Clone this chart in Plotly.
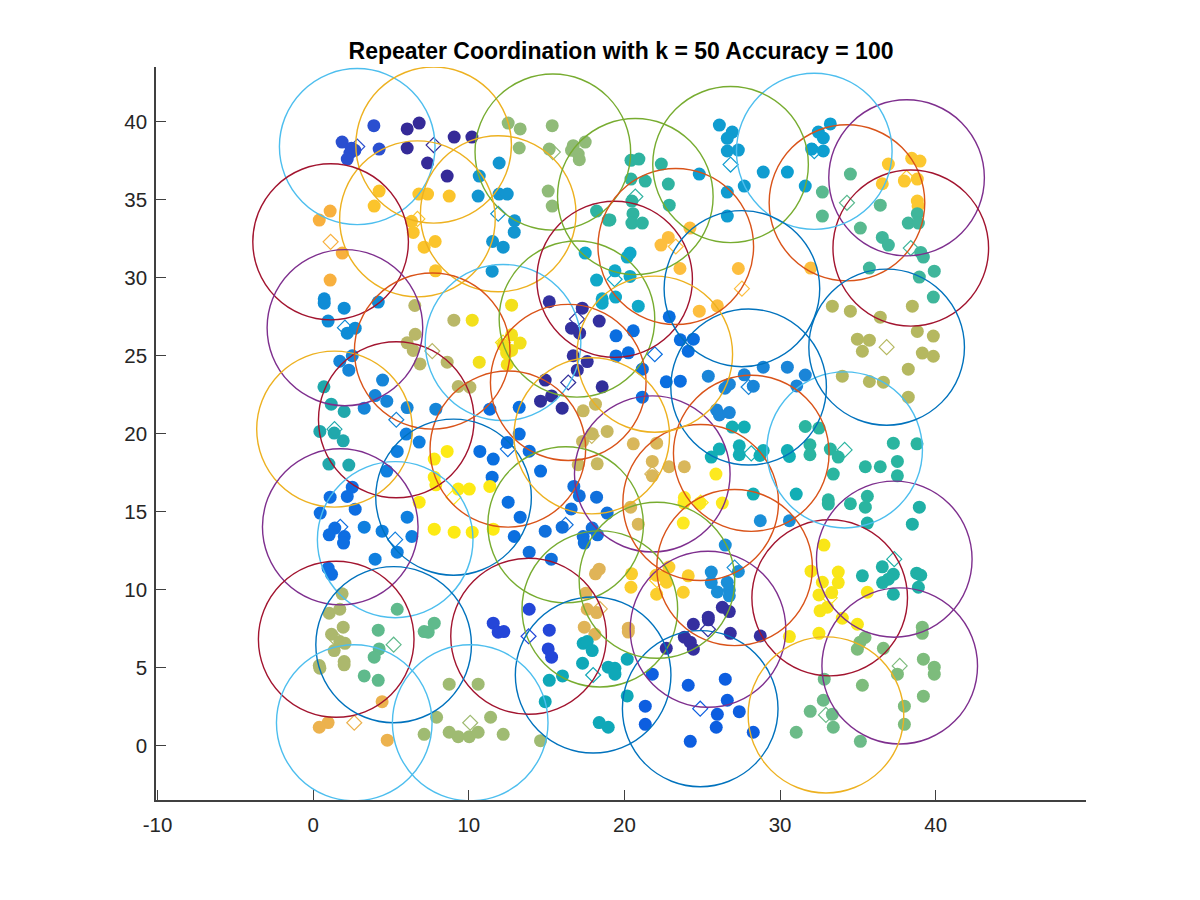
import plotly.graph_objects as go

RADIUS = 5.0
title_text = "Repeater Coordination with k = 50 Accuracy = 100"
x_ticks = [-10, 0, 10, 20, 30, 40]
x_tick_labels = ["-10", "0", "10", "20", "30", "40"]
y_ticks = [0, 5, 10, 15, 20, 25, 30, 35, 40]
y_tick_labels = ["0", "5", "10", "15", "20", "25", "30", "35", "40"]

BLUE, RED, ORANGE, PURPLE, GREEN, SKY, WINE = "#0072BD", "#D95319", "#EDB120", "#7E2F8E", "#77AC30", "#4DBEEE", "#A2142F"

p01 = [(3.90,39.74),(1.86,38.69),(2.46,38.3),(2.68,38.16),(2.36,37.99),(2.19,37.6),(4.24,38.24)]
p02 = [(6.81,39.91),(6.04,39.53),(6.04,38.31),(7.35,37.35),(8.61,36.51),(9.06,39.01),(10.2,39.01)]
p03 = [(12.53,39.91),(13.3,39.53),(15.36,39.74),(13.24,38.31),(15.17,38.24),(17.48,38.69),(16.71,38.46),(16.6,38.16),(17.03,37.92),(17.1,37.56),(15.1,35.55),(15.36,34.59)]
p04 = [(4.24,35.55),(3.92,34.59),(6.79,35.36),(7.35,35.36),(8.74,35.23),(6.32,33.61),(6.43,32.9),(7.13,31.96),(7.84,32.32),(7.86,30.44)]
p05 = [(1.09,34.27),(0.39,33.69),(1.87,31.58),(1.09,29.85)]
p06 = [(11.95,37.35),(10.67,36.51),(10.6,35.23),(11.95,35.36),(12.47,35.36),(12.94,33.65),(12.92,32.92),(11.53,32.32),(12.21,31.96),(11.5,30.42)]
p07 = [(0.71,28.65),(0.71,28.37),(1.99,28.05),(0.96,27.22),(4.18,28.44),(2.7,26.77),(2.19,26.45)]
p08 = [(1.71,24.65),(2.51,25.0),(2.29,24.08),(4.46,23.44),(3.98,22.45),(4.73,22.09),(3.28,21.64),(6.04,21.68),(7.88,21.58)]
p09 = [(0.69,23.01),(1.16,21.9),(1.99,21.43),(0.43,20.15),(1.35,20.05),(1.93,19.55),(1.01,18.06),(2.29,18.0)]
p10 = [(6.53,28.22),(6.56,26.38),(6.04,25.83),(6.43,25.34),(6.86,24.48),(8.61,24.59),(9.04,27.28),(9.32,23.03),(10.07,22.99)]
p11 = [(12.75,28.24),(10.22,27.28),(12.75,26.34),(13.3,25.81),(12.21,25.7),(12.75,25.34),(12.43,25.17),(10.67,24.59),(12.47,24.44)]
p12 = [(15.17,28.46),(17.29,28.05),(16.6,26.77),(17.12,26.45),(18.38,27.22),(16.71,25.0),(17.61,24.63),(16.97,24.08)]
p13 = [(17.48,31.58),(18.21,29.85),(19.39,30.44),(18.57,28.65),(18.57,28.37),(19.43,28.76),(20.36,31.58),(20.18,31.32),(20.36,30.08),(20.89,28.18)]
p14 = [(14.91,23.44),(15.32,22.43),(14.61,22.09),(16.0,21.64),(18.57,23.01)]
p15 = [(11.35,21.58),(13.24,21.7),(10.71,18.87),(11.57,18.38),(12.47,19.45),(13.24,19.98),(13.88,18.89),(14.61,17.61),(11.5,17.22),(12.53,15.62),(13.3,14.66),(12.92,13.42)]
p16 = [(7.78,18.38),(8.61,18.87),(7.78,17.22),(7.88,16.73),(9.32,16.46),(10.03,16.46),(11.35,16.63),(6.81,15.62),(7.78,13.89),(9.06,13.7),(10.22,13.7),(11.57,13.89)]
p17 = [(5.98,19.98),(6.81,19.47),(5.4,18.87),(4.73,17.61),(6.04,14.66),(3.28,14.02),(4.43,13.76),(6.34,13.42),(3.98,11.97),(5.4,12.42)]
p18 = [(2.51,16.58),(1.09,15.94),(2.19,15.99),(2.7,15.17),(0.45,14.92),(1.39,13.96),(1.03,13.53),(2.0,13.42),(1.95,13.0),(0.96,11.39),(1.18,11.0)]
p19 = [(16.75,16.63),(17.1,16.03),(18.21,15.94),(16.58,15.19),(18.89,14.92),(14.91,13.76),(16.0,14.02),(17.93,13.96),(17.35,13.42),(18.27,13.53),(17.42,13.0),(13.88,12.42),(15.3,11.97)]
p20 = [(17.93,20.0),(18.89,20.15),(17.31,19.51),(17.03,18.02),(18.25,18.08),(17.35,21.47),(18.14,21.9)]
p21 = [(20.57,19.36),(22.07,19.4),(21.79,18.23),(22.86,17.89),(23.85,17.89),(21.79,17.31),(20.4,15.3),(20.89,14.21)]
p22 = [(17.52,9.79),(17.61,8.76),(18.21,8.55),(17.42,7.61),(18.1,7.16),(18.14,11.03),(18.38,11.33),(20.25,7.55),(20.25,7.3)]
p23 = [(17.35,6.58),(17.61,6.69),(17.93,6.11),(17.31,5.3),(16.02,4.49),(15.17,4.21),(14.91,2.84),(18.38,1.5),(18.96,1.2),(18.96,5.05),(19.39,4.98),(19.39,4.6),(20.18,5.56),(20.18,3.21)]
p24 = [(13.88,8.76),(11.57,7.87),(11.89,7.29),(12.25,7.33),(15.17,7.42),(15.1,6.22),(15.32,5.69)]
p25 = [(1.86,9.75),(1.03,8.51),(1.71,8.76),(1.93,7.61),(1.18,7.16),(1.71,6.69),(2.04,6.58),(1.35,6.11),(1.99,5.41),(1.99,5.2),(0.39,5.15),(0.43,4.98)]
p26 = [(5.4,8.76),(4.18,7.42),(7.13,7.33),(7.39,7.29),(7.78,7.87),(4.24,6.22),(3.92,5.69),(3.28,4.49),(4.18,4.21)]
p27 = [(4.43,2.84),(0.96,1.5),(0.39,1.2),(4.76,0.37)]
p28 = [(8.74,3.96),(10.6,3.96),(7.93,1.84),(11.4,1.84),(7.13,0.75),(8.74,0.88),(9.32,0.6),(10.03,0.6),(10.6,0.88),(12.21,0.75),(14.61,0.34)]
p29 = [(21.79,4.6),(24.1,3.89),(26.48,4.28),(26.61,2.93),(21.34,2.55),(21.34,1.39),(25.97,2.03),(27.38,2.2),(25.9,1.2),(28.28,0.88),(24.23,0.3)]
p30 = [(26.29,8.89),(26.74,8.61),(24.43,7.8),(25.39,8.25),(25.39,8.08),(26.8,7.22),(28.73,7.05),(23.85,6.97),(24.23,6.65),(22.69,6.26),(24.43,6.2)]
p31 = [(26.48,12.87),(25.58,11.14),(27.32,11.18),(25.58,10.47),(26.61,10.49),(25.97,9.87),(26.74,10.0),(26.74,9.62),(28.73,14.43),(30.6,14.43)]
p32 = [(20.46,11.03),(20.42,10.17),(22.86,11.46),(22.03,10.94),(22.5,10.86),(22.71,10.49),(24.1,10.9),(22.07,9.72),(23.78,9.85)]
p33 = [(25.88,17.42),(23.85,15.92),(23.83,15.56),(24.85,15.56),(26.29,15.56),(23.78,14.28)]
p34 = [(32.82,12.87),(31.99,11.2),(33.74,11.14),(33.74,10.47),(32.72,10.49),(32.5,9.68),(33.32,9.83),(33.04,8.89),(32.57,8.66),(34.0,8.19),(34.97,7.8),(32.5,7.22),(30.6,7.01),(35.61,9.85)]
p35 = [(36.57,11.48),(35.29,10.9),(37.28,11.0),(36.96,10.69),(36.59,10.47),(37.28,9.72),(38.78,11.07),(39.04,10.94),(38.89,10.17),(35.61,14.28),(38.5,14.21),(38.95,15.3)]
p36 = [(37.28,19.4),(38.8,19.36),(37.54,18.23),(35.48,17.89),(36.44,17.89),(37.54,17.31),(33.42,17.42),(33.1,15.77),(33.1,15.5),(34.52,15.52),(35.61,16.0),(35.48,15.3),(33.23,19.02),(33.74,18.51),(31.92,19.3),(31.92,18.66),(31.62,20.47),(32.5,20.37)]
p37 = [(25.39,23.69),(27.7,23.78),(28.92,24.27),(30.47,24.27),(31.62,23.76),(31.07,23.07),(26.74,23.18),(26.46,22.92),(28.28,23.05),(25.92,21.53),(26.1,21.21),(26.74,21.36)]
p38 = [(26.93,20.43),(27.7,20.43),(26.1,19.02),(27.38,19.23),(27.38,18.66),(25.58,18.51),(28.92,18.93),(28.71,18.61),(30.47,18.93),(30.6,18.55),(28.28,16.14),(31.04,16.14)]
p39 = [(22.88,27.5),(20.57,26.6),(19.46,26.28),(20.25,25.19),(19.46,24.99),(23.59,26.02),(24.43,26.06),(24.1,25.29),(21.15,24.14),(22.69,23.33),(23.59,23.37),(21.15,22.35)]
p40 = [(24.21,33.18),(22.82,32.58),(22.35,32.09),(23.57,30.59),(31.97,30.62)]
p41 = [(34.52,36.64),(32.72,35.49),(36.44,34.65),(32.72,33.95),(35.16,33.18)]
p42 = [(36.96,37.28),(38.46,37.65),(38.99,37.47),(36.57,36.02),(37.99,36.19),(38.82,36.32),(38.82,34.91),(38.87,34.6)]
p43 = [(38.82,34.1),(38.24,33.5),(38.89,33.5),(36.57,32.58),(36.96,32.09),(39.04,31.62),(39.21,31.32),(35.74,30.62),(39.91,30.42),(38.95,30.04),(39.85,28.76)]
p44 = [(33.36,28.18),(34.52,27.86),(36.44,27.47),(38.5,28.18),(38.82,26.56),(39.85,26.26),(34.97,26.06),(35.74,26.0),(35.29,25.29),(39.14,25.17),(39.85,24.97),(38.24,24.14),(34.0,23.69),(35.74,23.35),(36.64,23.31),(38.24,22.35)]
p45 = [(33.23,39.85),(32.46,39.33),(32.78,38.95),(32.03,38.24),(32.78,38.12),(30.47,36.77),(31.62,35.87)]
p46 = [(26.1,39.78),(26.93,39.33),(26.61,38.93),(26.61,38.12),(27.32,38.18),(28.92,36.77),(27.7,35.87),(24.81,36.64),(26.61,35.49),(26.61,33.95)]
p47 = [(20.42,37.52),(20.93,37.6),(22.37,37.28),(20.42,36.32),(21.34,36.19),(22.82,36.0),(22.88,34.65),(20.48,34.91),(20.55,34.1),(20.48,33.5),(21.15,33.5),(19.07,33.7),(18.21,34.27),(18.96,33.69)]
p48 = [(39.14,7.61),(39.14,7.22),(35.46,6.95),(35.14,6.65),(34.97,6.2),(36.64,6.26),(39.21,5.56),(39.91,5.05),(39.91,4.6),(37.54,4.6),(35.29,3.89),(39.21,3.19),(37.99,2.55),(37.99,1.39)]
p49 = [(32.84,4.28),(32.78,2.93),(31.94,2.22),(33.36,2.03),(33.42,1.2),(31.04,0.88),(35.16,0.3)]
p50 = [(27.32,30.59),(24.81,27.86),(25.97,28.2)]

points_by_cluster = [p01,p02,p03,p04,p05,p06,p07,p08,p09,p10,p11,p12,p13,p14,p15,p16,p17,p18,p19,p20,p21,p22,p23,p24,p25,p26,p27,p28,p29,p30,p31,p32,p33,p34,p35,p36,p37,p38,p39,p40,p41,p42,p43,p44,p45,p46,p47,p48,p49,p50]

centre_x = [2.83,7.74,15.4,6.7,1.12,11.89,2.04,5.34,1.37,7.65,12.2,16.95,19.37,16.39,12.51,9.02,5.27,1.74,16.22,17.9,21.79,18.42,17.99,13.84,1.48,5.17,2.64,10.09,24.87,25.37,27.08,22.09,24.9,33.19,37.34,34.15,27.98,28.15,21.95,23.3,34.3,38.13,38.4,36.85,32.2,26.82,20.7,37.69,32.95,27.55]
centre_y = [38.4,38.5,38.05,33.77,32.3,34.1,26.8,20.9,20.3,25.3,25.85,27.35,29.9,23.29,19.02,15.94,13.22,14.04,14.17,19.87,17.43,8.78,4.55,7.03,6.84,6.49,1.49,1.49,2.39,7.48,11.43,10.62,15.6,9.49,11.97,18.97,23.0,18.75,25.1,32.0,34.8,36.4,31.9,25.55,38.1,37.25,35.2,5.13,1.99,29.3]
ring_colors = [SKY,ORANGE,GREEN,ORANGE,WINE,ORANGE,PURPLE,WINE,ORANGE,RED,SKY,GREEN,WINE,RED,RED,BLUE,SKY,PURPLE,GREEN,ORANGE,PURPLE,GREEN,BLUE,WINE,WINE,BLUE,SKY,SKY,BLUE,PURPLE,RED,GREEN,RED,WINE,PURPLE,SKY,BLUE,RED,ORANGE,RED,RED,PURPLE,WINE,BLUE,SKY,GREEN,GREEN,PURPLE,ORANGE,BLUE]
dot_colors = ["#2a4fd0","#352a98","#90bb78","#fbc42c","#f8b03e","#1295d0","#0f8cd6","#1585d8","#20a8ac","#b9b768","#f3e01b","#33309f","#10a8c8","#312e9a","#0a6fe0","#fdea14","#0f7fdf","#0e6ee2","#1070dc","#c8b860","#d9b75a","#e0b458","#0fa8b8","#2446d8","#acb86d","#5fba8c","#ecb24e","#9fbb72","#0d5ee0","#352f9f","#1a8fd8","#fbce2c","#fde920","#f9e618","#1fb0a6","#2ab5a0","#1a85d8","#12aeb5","#0a6ee0","#fdbe3e","#59b98f","#fcc830","#3fb69b","#b5b860","#0d9ed0","#109cd0","#2fb3a0","#7dbc7c","#6cbb88","#fdbe3e"]

fig = go.Figure()
for pts, cx, cy, dot, ring in zip(points_by_cluster, centre_x, centre_y, dot_colors, ring_colors):
    fig.add_trace(go.Scatter(x=[p[0] for p in pts], y=[p[1] for p in pts], mode="markers",
                             marker=dict(color=dot, size=13, line=dict(width=0)), showlegend=False, hoverinfo="skip"))
    fig.add_trace(go.Scatter(x=[cx], y=[cy], mode="markers",
                             marker=dict(symbol="diamond-open", color=dot, size=11.5, line=dict(width=1.2, color=dot)),
                             showlegend=False, hoverinfo="skip"))
    fig.add_shape(type="circle", xref="x", yref="y", x0=cx-RADIUS, x1=cx+RADIUS, y0=cy-RADIUS, y1=cy+RADIUS,
                  line=dict(color=ring, width=1.4), layer="above")

axis_common = dict(showgrid=False, zeroline=False, showline=True, linecolor="#404040", linewidth=1.5,
                   ticks="inside", ticklen=10, tickwidth=1.2, tickcolor="#404040",
                   tickfont=dict(family="Liberation Sans", size=20.5, color="#262626"), mirror=False)
fig.update_layout(
    width=1200, height=900, paper_bgcolor="white", plot_bgcolor="white", showlegend=False,
    margin=dict(l=156, r=114, t=67, b=100),
    title=dict(text="<b>%s</b>" % title_text, x=621/1200, xanchor="center", y=1-51/900, yanchor="middle",
               font=dict(family="Liberation Sans", size=23, color="black")),
    xaxis=dict(range=[-10.1, 49.66], tickmode="array", tickvals=x_ticks, ticktext=x_tick_labels, ticklabelstandoff=6, **axis_common),
    yaxis=dict(range=[-3.46, 43.5], tickmode="array", tickvals=y_ticks, ticktext=y_tick_labels, ticklabelstandoff=3, **axis_common),
)
fig.write_html("out.html", post_script="document.body.style.margin='0';", config=dict(displayModeBar=False))
